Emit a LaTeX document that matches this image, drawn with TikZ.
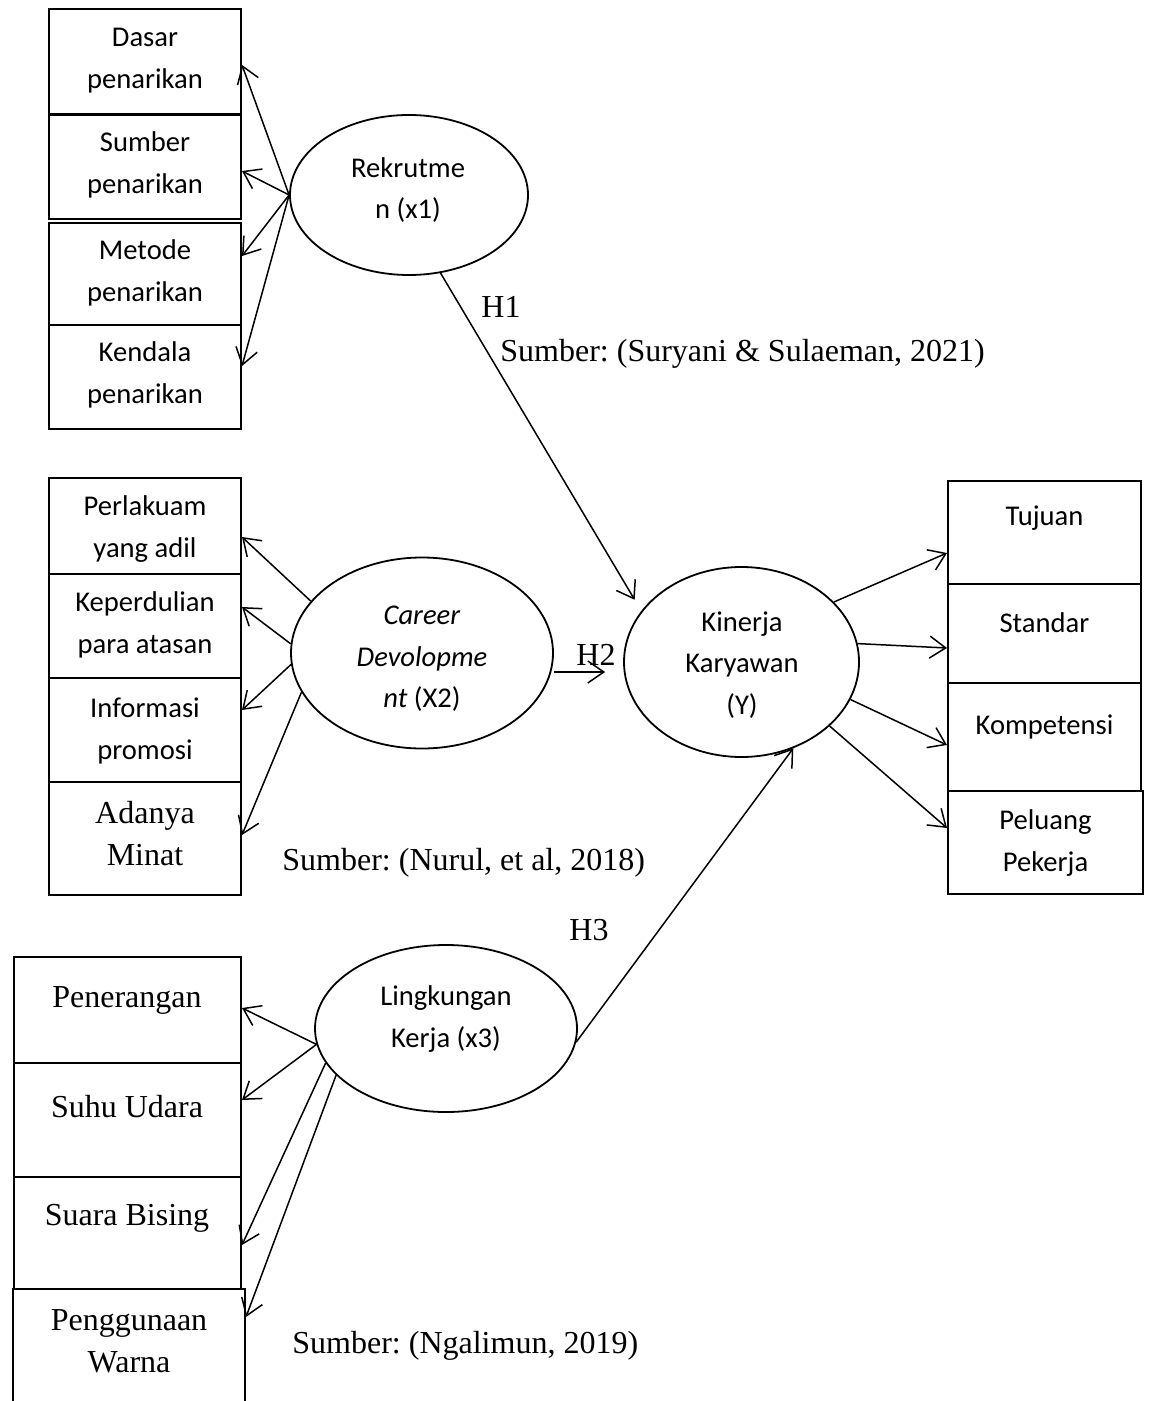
\documentclass[tikz,border=0pt]{standalone}
\usepackage{fontspec}
\setmainfont{Liberation Serif}
\newfontfamily\carl{Carlito}
\usetikzlibrary{shapes.geometric,arrows.meta,calc}
\frenchspacing
\begin{document}
\begin{tikzpicture}[x=0.5pt,y=-0.5pt,
  box/.style={draw,line width=1pt,minimum width=96pt,inner sep=0pt},
  oval/.style={draw,ellipse,line width=0.9pt,inner sep=0pt},
  ctxt/.style={font=\carl\fontsize{14.3}{20.75}\selectfont,align=center,inner sep=0pt},
  ttxt/.style={font=\frenchspacing\fontsize{16}{21}\selectfont,align=center,inner sep=0pt},
  arr/.style={-{Straight Barb[length=8pt,width=11pt]},line width=0.75pt},
]
\useasboundingbox (0,0) rectangle (1150,1401);
\clip (0,0) rectangle (1150,1401);

% ---------- top-left boxes ----------
\node[box,minimum height=52.5pt] (dasar) at (145,61.5) {};
\node[box,minimum height=52pt] (sumber) at (145,167) {};
\node[box,minimum height=51pt] (metode) at (145,274) {};
\node[box,minimum height=52pt] (kendala) at (145,377) {};
\node[ctxt] (dasarT) at (145,60.5) {Dasar\\penarikan};
\node[ctxt] (sumberT) at (145,165) {Sumber\\penarikan};
\node[ctxt] (metodeT) at (145,273) {Metode\\penarikan};
\node[ctxt] (kendalaT) at (145,375) {Kendala\\penarikan};

% ---------- middle-left boxes ----------
\node[box,minimum height=48pt] (perl) at (145,526) {};
\node[box,minimum height=52pt] (keper) at (145,626) {};
\node[box,minimum height=52pt] (info) at (145,730) {};
\node[box,minimum height=56.5pt] (adanya) at (145,838.5) {};
\node[ctxt] (perlT) at (145,529) {Perlakuam\\yang adil};
\node[ctxt] (keperT) at (145,625) {Keperdulian\\para atasan};
\node[ctxt] (infoT) at (145,731) {Informasi\\promosi};
\node[ttxt] (adanyaT) at (145,834) {Adanya\\Minat};

% ---------- right boxes ----------
\node[box,minimum width=96.5pt,minimum height=51.5pt] (tuj) at (1044.5,532.5) {};
\node[box,minimum width=96.5pt,minimum height=49.5pt] (std) at (1044.5,633.5) {};
\node[box,minimum width=96.5pt,minimum height=54pt] (komp) at (1044.5,737) {};
\node[box,minimum width=97.5pt,minimum height=51.5pt] (pel) at (1045.5,842.5) {};
\node[ctxt] (tujT) at (1044.5,518) {Tujuan};
\node[ctxt] (stdT) at (1044.5,623) {Standar};
\node[ctxt] (kompT) at (1044.5,727) {Kompetensi};
\node[ctxt] (pelT) at (1045.5,843) {Peluang\\Pekerja};

% ---------- bottom-left boxes ----------
\node[box,minimum width=113.5pt,minimum height=53pt] (pen) at (127.5,1010) {};
\node[box,minimum width=113.5pt,minimum height=57pt] (suhu) at (127.5,1120) {};
\node[box,minimum width=113.5pt,minimum height=56pt] (suara) at (127.5,1233) {};
\node[box,minimum width=116pt,minimum height=61.5pt] (pengg) at (129,1350.5) {};
\node[ttxt] (penT) at (127,1000) {Penerangan};
\node[ttxt] (suhuT) at (127,1107) {Suhu Udara};
\node[ttxt] (suaraT) at (127,1218) {Suara Bising};
\node[ttxt] (penggT) at (129,1341) {Penggunaan\\Warna};

% ---------- ellipses ----------
\node[oval,minimum width=119pt,minimum height=80pt] (rek) at (409,195) {};
\node[oval,minimum width=131pt,minimum height=95.5pt] (car) at (422,653) {};
\node[oval,minimum width=117.5pt,minimum height=95pt] (kin) at (741.5,662) {};
\node[oval,minimum width=131pt,minimum height=83.5pt] (lin) at (446,1028.5) {};
\node[ctxt] (rekT) at (408,190) {Rekrutme\\n (x1)};
\node[ctxt] (carT) at (422,659) {\textit{Career}\\\textit{Devolopme}\\\textit{nt} (X2)};
\node[ctxt] (kinT) at (742,665) {Kinerja\\Karyawan\\(Y)};
\node[ctxt] (linT) at (446,1019) {Lingkungan\\Kerja (x3)};

% ---------- labels ----------
\node[ttxt,anchor=base] (h1) at (501,318) {H1};
\node[ttxt,anchor=base west] (src1) at (500,362) {Sumber: (Suryani \& Sulaeman, 2021)};
\node[ttxt,anchor=base] (h2) at (596,665.5) {H2};
\node[ttxt,anchor=base west] (src2) at (282,870.5) {Sumber: (Nurul, et al, 2018)};
\node[ttxt,anchor=base] (h3) at (589,940.5) {H3};
\node[ttxt,anchor=base west] (src3) at (292,1353.5) {Sumber: (Ngalimun, 2019)};

% ---------- Rekrutmen indicators ----------
\draw[arr] (rek.west) -- ([yshift=-1.75pt]dasar.east);
\draw[arr] (rek.west) -- ([yshift=-2pt]sumber.east);
\draw[arr] (rek.west) -- ([yshift=9pt]metode.east);
\draw[arr] (rek.west) -- ([yshift=5.5pt]kendala.east);

% ---------- Career indicators ----------
\draw[arr] (car.155) -- ([yshift=-5.5pt]perl.east);
\draw[arr] (car.176) -- ([yshift=9.5pt]keper.east);
\draw[arr] (car.185) -- ([yshift=10pt]info.east);
\draw[arr] (car.198) -- ([yshift=1.75pt]adanya.east);

% ---------- Kinerja indicators ----------
\draw[arr] (kin.33) -- ([yshift=-10.25pt]tuj.west);
\draw[arr] (kin.9) -- ([yshift=-7.25pt]std.west);
\draw[arr] (kin.-19) -- ([yshift=-4pt]komp.west);
\draw[arr] (kin.-36) -- ([yshift=7.25pt]pel.west);

% ---------- Lingkungan indicators ----------
\draw[arr] (lin.187) -- ([yshift=1pt]pen.east);
\draw[arr] (lin.187) -- ([yshift=10pt]suhu.east);
\draw[arr] (lin.196) -- ([yshift=-6pt]suara.east);
\draw[arr] (lin.203) -- ([yshift=16.75pt]pengg.east);

% ---------- hypotheses ----------
\draw[arr,shorten >=6.5pt] (rek.292) -- (kin.153);
\coordinate (h2s) at ([yshift=-9.5pt]car.east);
\draw[arr,shorten >=9pt] (h2s) -- (h2s -| kin.west);
\draw[arr] (lin.354) -- (kin.301);
\end{tikzpicture}
\end{document}
